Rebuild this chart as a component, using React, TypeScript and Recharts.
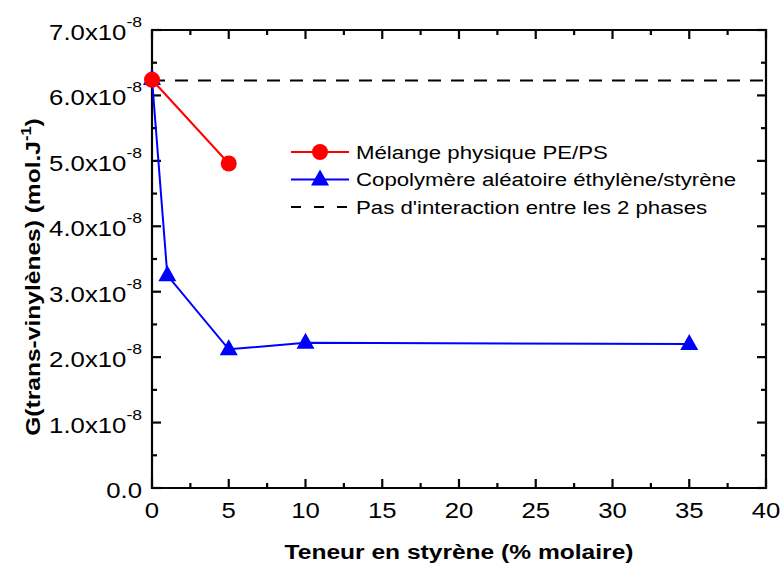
import React from 'react';
import { LineChart, Line, XAxis, YAxis, Legend, Label, ReferenceLine } from 'recharts';

// ---- data (G values in units of 1e-8 mol/J) ----
const melangeX = [0, 5];
const melangeY = [6.24, 4.96];
const copoX = [0, 1, 5, 10, 35];
const copoY = [6.25, 3.25, 2.12, 2.22, 2.2];
const refX = [0, 40];
const refY = [6.23, 6.23];

const xDomain = [0, 40];
const yDomain = [0, 7];
const xTicks = [0, 2.5, 5, 7.5, 10, 12.5, 15, 17.5, 20, 22.5, 25, 27.5, 30, 32.5, 35, 37.5, 40];
const yTicks = [0, 0.5, 1, 1.5, 2, 2.5, 3, 3.5, 4, 4.5, 5, 5.5, 6, 6.5, 7];

const seriesNames = [
  'Mélange physique PE/PS',
  'Copolymère aléatoire éthylène/styrène',
  "Pas d'interaction entre les 2 phases",
];
const xTitle = 'Teneur en styrène (% molaire)';

const melangeData = melangeX.map((x, i) => ({ x, y: melangeY[i] }));
const copoData = copoX.map((x, i) => ({ x, y: copoY[i] }));
const refData = refX.map((x, i) => ({ x, y: refY[i] }));

const FONT = "'Liberation Sans', Arial, Helvetica, sans-serif";
const SX = 1.17;
const RED = '#ff0000';
const BLUE = '#0000ff';
const INK = '#050505';

const isMajorX = (v: number) => v % 5 === 0;
const isMajorY = (v: number) => Number.isInteger(v);

const XTickBottom = (p: any) => {
  const { x, y, payload } = p;
  const v = payload.value;
  if (!isMajorX(v)) return <g />;
  return (
    <text transform={`translate(${x},${y + 30}) scale(${SX},1)`} textAnchor="middle" fontSize={22} fontFamily={FONT} fill="#000">
      {v}
    </text>
  );
};

const YTickLeft = (p: any) => {
  const { x, y, payload } = p;
  const v = payload.value;
  if (!isMajorY(v)) return <g />;
  return (
    <text transform={`translate(${x - 10},${y + 10}) scale(${SX},1)`} textAnchor="end" fontSize={22} fontFamily={FONT} fill="#000">
      {v === 0 ? (
        '0.0'
      ) : (
        <>
          {v.toFixed(1)}x10
          <tspan dy={-13} fontSize={15}>-8</tspan>
        </>
      )}
    </text>
  );
};

// vertical reference line: full-height frame edge if it is a domain edge, plus inward ticks at both ends
const VShape = (v: number) => (p: any) => {
  const top = Math.min(p.y1, p.y2);
  const bot = Math.max(p.y1, p.y2);
  const len = isMajorX(v) ? 9 : 5;
  const edge = v === xDomain[0] || v === xDomain[1];
  return (
    <g>
      {edge && <line x1={p.x1} x2={p.x1} y1={top - 1} y2={bot + 1} stroke={INK} strokeWidth={2.2} />}
      <line x1={p.x1} x2={p.x1} y1={top} y2={top + len} stroke={INK} strokeWidth={2.2} />
      <line x1={p.x1} x2={p.x1} y1={bot} y2={bot - len} stroke={INK} strokeWidth={2.2} />
    </g>
  );
};

// horizontal reference line: full-width frame edge if it is a domain edge, plus inward ticks at both ends
const HShape = (v: number) => (p: any) => {
  const l = Math.min(p.x1, p.x2);
  const r = Math.max(p.x1, p.x2);
  const len = isMajorY(v) ? 9 : 5;
  const edge = v === yDomain[0] || v === yDomain[1];
  return (
    <g>
      {edge && <line x1={l - 1} x2={r + 1} y1={p.y1} y2={p.y1} stroke={INK} strokeWidth={2.2} />}
      <line x1={l} x2={l + len} y1={p.y1} y2={p.y1} stroke={INK} strokeWidth={2.2} />
      <line x1={r} x2={r - len} y1={p.y1} y2={p.y1} stroke={INK} strokeWidth={2.2} />
    </g>
  );
};

const XTitle = (p: any) => {
  const vb = p.viewBox || { x: 152, y: 488, width: 614, height: 77 };
  return (
    <text transform={`translate(${vb.x + vb.width / 2},${vb.y + 71}) scale(${SX},1)`} textAnchor="middle" fontSize={21} fontWeight="bold" fontFamily={FONT} fill="#000">
      {xTitle}
    </text>
  );
};

const YTitle = (p: any) => {
  const vb = p.viewBox || { x: 0, y: 30, width: 152, height: 458 };
  return (
    <text transform={`translate(${vb.x + 40},${vb.y + vb.height / 2 + 18}) rotate(-90) scale(${SX},1)`} textAnchor="middle" fontSize={21} fontWeight="bold" fontFamily={FONT} fill="#000">
      G(trans-vinylènes) (mol.J<tspan dy={-9} fontSize={14}>-1</tspan><tspan dy={9}>)</tspan>
    </text>
  );
};

const Circle = (p: any) => {
  if (p.cx == null || p.cy == null) return <g key={p.key} />;
  return <circle key={p.key} cx={p.cx} cy={p.cy} r={8} fill={RED} />;
};

const Triangle = (p: any) => {
  if (p.cx == null || p.cy == null) return <g key={p.key} />;
  const { cx, cy } = p;
  return <polygon key={p.key} points={`${cx},${cy - 10} ${cx - 9},${cy + 6} ${cx + 9},${cy + 6}`} fill={BLUE} />;
};

const legendItems = [
  { name: seriesNames[0], color: RED, marker: 'circle', dash: undefined },
  { name: seriesNames[1], color: BLUE, marker: 'triangle', dash: undefined },
  { name: seriesNames[2], color: '#000', marker: 'none', dash: '10 13' },
];

const renderLegend = () => (
  <svg width={480} height={84}>
    {legendItems.map((it, i) => {
      const cy = 14 + i * 27.5;
      return (
        <g key={it.name}>
          <line x1={6} x2={64} y1={cy} y2={cy} stroke={it.color} strokeWidth={2} strokeDasharray={it.dash} />
          {it.marker === 'circle' && <circle cx={35} cy={cy} r={8} fill={it.color} />}
          {it.marker === 'triangle' && <polygon points={`35,${cy - 10} 26,${cy + 6} 44,${cy + 6}`} fill={it.color} />}
          <text transform={`translate(71,${cy + 6.5}) scale(${SX},1)`} fontSize={19} fontFamily={FONT} fill="#000">
            {it.name}
          </text>
        </g>
      );
    })}
  </svg>
);

export default function App() {
  return (
    <div style={{ position: 'absolute', left: 0, top: 0, width: 781, height: 565, background: '#fff' }}>
      <LineChart width={781} height={565} margin={{ top: 30, right: 15, bottom: 0, left: 0 }}>
        <XAxis
          dataKey="x"
          type="number"
          domain={xDomain}
          ticks={xTicks}
          interval={0}
          height={77}
          tickSize={0}
          tickMargin={0}
          tickLine={false}
          axisLine={false}
          tick={(p: any) => <XTickBottom {...p} />}
        >
          <Label content={(p: any) => <XTitle {...p} />} />
        </XAxis>
        <YAxis
          type="number"
          domain={yDomain}
          ticks={yTicks}
          interval={0}
          width={152}
          tickSize={0}
          tickMargin={0}
          tickLine={false}
          axisLine={false}
          tick={(p: any) => <YTickLeft {...p} />}
        >
          <Label content={(p: any) => <YTitle {...p} />} />
        </YAxis>

        {xTicks.map((v) => (
          <ReferenceLine key={`xt${v}`} x={v} stroke={INK} shape={VShape(v)} />
        ))}
        {yTicks.map((v) => (
          <ReferenceLine key={`yt${v}`} y={v} stroke={INK} shape={HShape(v)} />
        ))}

        <Legend
          layout="horizontal"
          verticalAlign="middle"
          align="center"
          content={renderLegend}
          wrapperStyle={{ position: 'absolute', left: 285, top: 138, width: 480, height: 84 }}
        />
        <Line data={refData} dataKey="y" name={seriesNames[2]} stroke="#000" strokeWidth={2} strokeDasharray="13 10" dot={false} activeDot={false} isAnimationActive={false} />
        <Line data={copoData} dataKey="y" name={seriesNames[1]} stroke={BLUE} strokeWidth={2} dot={Triangle} activeDot={false} isAnimationActive={false} />
        <Line data={melangeData} dataKey="y" name={seriesNames[0]} stroke={RED} strokeWidth={2} dot={Circle} activeDot={false} isAnimationActive={false} />
      </LineChart>
    </div>
  );
}
